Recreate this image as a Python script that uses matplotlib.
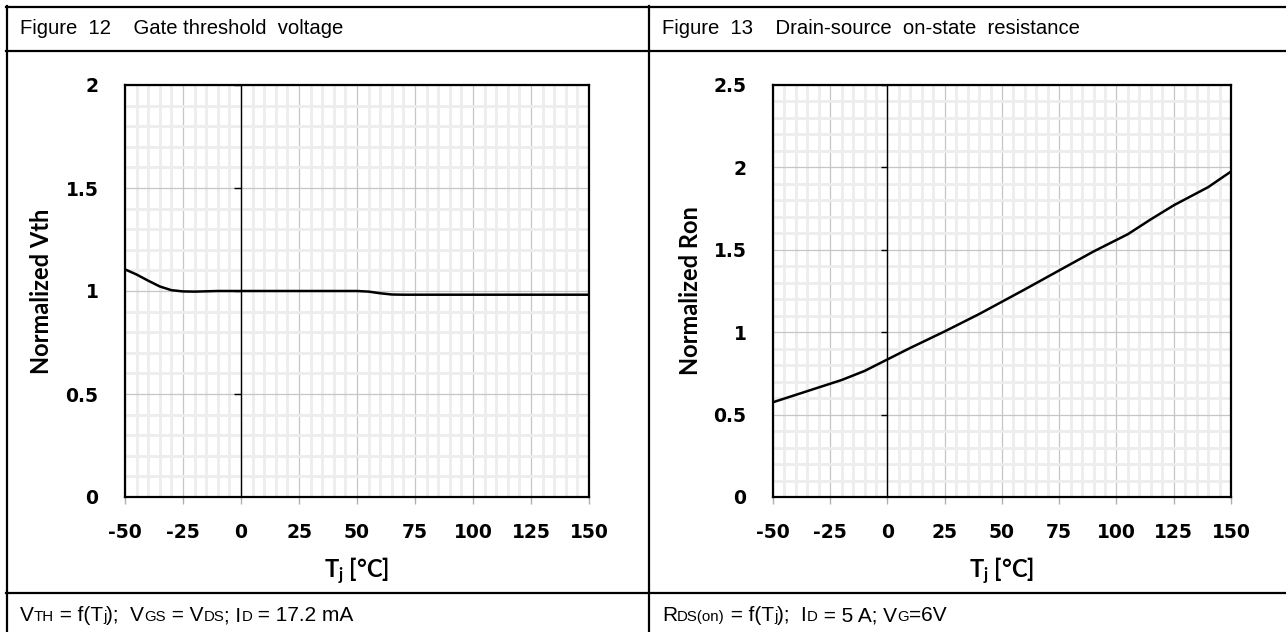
import matplotlib
matplotlib.use("Agg")
import matplotlib.pyplot as plt
from matplotlib.lines import Line2D
from matplotlib.ticker import MultipleLocator

# --- data ---
tj_vth = [-50, -45, -40, -35, -30, -25, -20, -10, 0, 25, 50, 55, 60, 65, 70, 100, 150]
vth = [1.105, 1.08, 1.05, 1.022, 1.004, 0.998, 0.997, 1.0, 1.0, 1.0, 1.0, 0.997,
       0.989, 0.983, 0.982, 0.982, 0.982]

tj_ron = [-50, -40, -30, -20, -10, 0, 10, 25, 40, 50, 60, 75, 90, 100, 105, 110,
          115, 125, 140, 150]
ron = [0.575, 0.62, 0.665, 0.71, 0.765, 0.835, 0.905, 1.005, 1.11, 1.185, 1.26,
       1.375, 1.49, 1.56, 1.595, 1.64, 1.685, 1.77, 1.88, 1.975]

x_ticks = [-50, -25, 0, 25, 50, 75, 100, 125, 150]
y_ticks_vth = [0, 0.5, 1, 1.5, 2]
y_ticks_ron = [0, 0.5, 1, 1.5, 2, 2.5]
y_labels_vth = ['0', '0.5', '1', '1.5', '2']
y_labels_ron = ['0', '0.5', '1', '1.5', '2', '2.5']

W, H = 1286, 632
fig = plt.figure(figsize=(W / 100, H / 100), dpi=100)
plt.rcParams['mathtext.fontset'] = 'custom'
plt.rcParams['mathtext.bf'] = 'Lato:bold'
plt.rcParams['mathtext.rm'] = 'Lato'
SANS = 'Liberation Sans'


def px_axes(l, t, r, b):
    return fig.add_axes([l / W, 1 - b / H, (r - l) / W, (b - t) / H])


def hline(x0, x1, y):
    fig.add_artist(Line2D([x0 / W, x1 / W], [1 - y / H, 1 - y / H],
                          transform=fig.transFigure, color='k', lw=1.6))


def vline(x, y0, y1):
    fig.add_artist(Line2D([x / W, x / W], [1 - y0 / H, 1 - y1 / H],
                          transform=fig.transFigure, color='k', lw=1.6))


# table frame
hline(6, W, 7)
hline(6, W, 51)
hline(6, W, 593)
vline(7, 6, H)
vline(649, 6, H)


def rich(x, y, pieces, size=15):
    # pieces: (text, small?) drawn one after another on the same baseline
    r = fig.canvas.get_renderer()
    for s, small in pieces:
        t = fig.text(x / W, 1 - y / H, s, fontsize=size * (0.72 if small else 1),
                     family=SANS, va='baseline', ha='left')
        x += t.get_window_extent(r).width


def chart(l, r, x, y, yt, ytl, ylabel, label_x):
    ax = px_axes(l, 85, r, 497)
    ax.plot(x, y, color='k', lw=1.8, zorder=5)
    ax.set_xlim(-50, 150)
    ax.set_ylim(yt[0], yt[-1])
    ax.set_xticks(x_ticks)
    ax.set_xticklabels([str(v) for v in x_ticks])
    ax.set_yticks(yt)
    ax.set_yticklabels(ytl)
    ax.xaxis.set_minor_locator(MultipleLocator(5))
    ax.yaxis.set_minor_locator(MultipleLocator(0.1))
    ax.grid(which='minor', color='#ededed', lw=2.0, zorder=0)
    ax.grid(which='major', color='#c6c6c6', lw=0.9, zorder=1)
    ax.set_axisbelow(True)
    for sp in ax.spines.values():
        sp.set_linewidth(1.6)
        sp.set_color('k')
    ax.tick_params(axis='x', which='major', length=5, width=1, color='#b0b0b0', pad=14)
    ax.tick_params(axis='y', which='major', length=0, pad=19)
    ax.tick_params(which='minor', length=0)
    for lab in ax.get_xticklabels() + ax.get_yticklabels():
        lab.set_fontweight('bold')
        lab.set_fontsize(13.5)
        lab.set_family('DejaVu Sans')
    # vertical axis crossing at Tj = 0, with its own small ticks
    ax.axvline(x_ticks[2], color='k', lw=1.0, zorder=3)
    ax.hlines(yt[1:], x_ticks[2] - 3, x_ticks[2], color='k', lw=1.0, zorder=3)
    fig.text(label_x / W, 1 - 291 / H, ylabel, rotation=90, ha='center', va='center',
             family='Lato', fontweight='bold', fontsize=17)
    fig.text((l + r) / 2 / W, 1 - 571 / H, r'$\mathbf{T_j}$ [°C]', ha='center', va='center',
             family='Lato', fontweight='bold', fontsize=17)
    return ax


chart(125, 589, tj_vth, vth, y_ticks_vth, y_labels_vth, 'Normalized Vth', 42)
chart(773, 1231, tj_ron, ron, y_ticks_ron, y_labels_ron, 'Normalized Ron', 690)

# header cells
fig.text(20 / W, 1 - 29 / H, 'Figure  12    Gate threshold  voltage', family=SANS,
         fontsize=14.6, va='center')
fig.text(662 / W, 1 - 29 / H, 'Figure  13    Drain-source  on-state  resistance',
         family=SANS, fontsize=14.6, va='center')

# footer cells
rich(20, 621, [('V', 0), ('TH', 1), (' = f(T', 0), ('j', 1), (');  V', 0), ('GS', 1),
               (' = V', 0), ('DS', 1), ('; I', 0), ('D', 1), (' = 17.2 mA', 0)])
rich(662, 621, [('R', 0), ('DS(on)', 1), (' = f(T', 0), ('j', 1), (');  I', 0), ('D', 1),
                (' = 5 A; V', 0), ('G', 1), ('=6V', 0)])

fig.savefig('out.png', dpi=100)
